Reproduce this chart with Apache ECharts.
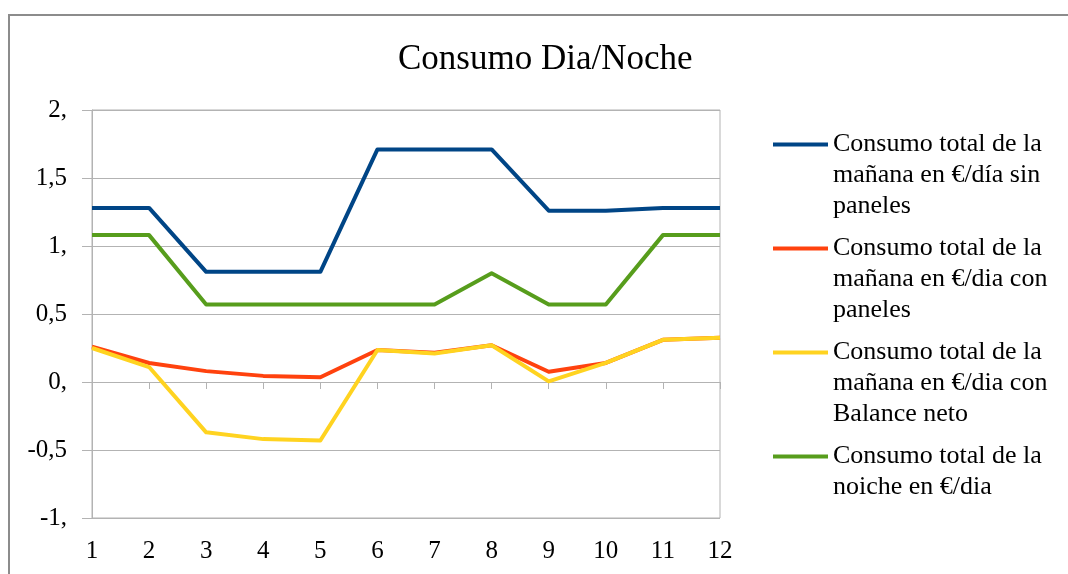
<!DOCTYPE html>
<html>
<head>
<meta charset="utf-8">
<title>Consumo Dia/Noche</title>
<script src="https://cdn.jsdelivr.net/npm/echarts@6/dist/echarts.min.js"></script>
<style>
  html, body { margin: 0; padding: 0; background: #fff; }
  #myChart { width: 1068px; height: 574px; }
</style>
</head>
<body>
<div id="myChart"></div>
<script>
// categorias (meses)
var categories = ['1', '2', '3', '4', '5', '6', '7', '8', '9', '10', '11', '12'];

// valores
var sinPaneles = [1.28, 1.28, 0.81, 0.81, 0.81, 1.71, 1.71, 1.71, 1.26, 1.26, 1.28, 1.28];
var conPaneles = [0.26, 0.14, 0.08, 0.045, 0.035, 0.235, 0.215, 0.27, 0.075, 0.14, 0.31, 0.325];
var balanceNeto = [0.25, 0.11, -0.37, -0.42, -0.43, 0.235, 0.21, 0.27, 0.005, 0.14, 0.31, 0.325];
var noche = [1.08, 1.08, 0.57, 0.57, 0.57, 0.57, 0.57, 0.80, 0.57, 0.57, 1.08, 1.08];

var seriesNames = [
    'Consumo total de la mañana en €/día sin paneles',
    'Consumo total de la mañana en €/dia con paneles',
    'Consumo total de la mañana en €/dia con Balance neto',
    'Consumo total de la noiche en €/dia'
];
// lineas de la leyenda; las lineas vacias dejan el icono a la altura de la primera linea
var legendLabels = [
    '\n\nConsumo total de la\nmañana en €/día sin\npaneles',
    '\n\nConsumo total de la\nmañana en €/dia con\npaneles',
    '\n\nConsumo total de la\nmañana en €/dia con\nBalance neto',
    '\n\nConsumo total de la\nnoiche en €/dia\n'
];

// etiquetas del eje Y
var yTicks = [-1, -0.5, 0, 0.5, 1, 1.5, 2];
var yTickLabels = ['-1,', '-0,5', '0,', '0,5', '1,', '1,5', '2,'];

var colors = ['#004586', '#ff420e', '#ffd320', '#579d1c'];
var serif = '"Liberation Serif", "Times New Roman", serif';

function yLabel(v) {
    for (var i = 0; i < yTicks.length; i++) {
        if (Math.abs(yTicks[i] - v) < 1e-9) return yTickLabels[i];
    }
    return '';
}

function legendLabel(name) {
    var i = seriesNames.indexOf(name);
    return i >= 0 ? legendLabels[i] : name;
}

function lineSeries(idx, values) {
    return {
        name: seriesNames[idx],
        type: 'line',
        xAxisIndex: 0,
        data: values,
        symbol: 'none',
        color: colors[idx],
        lineStyle: {width: 4, color: colors[idx], join: 'round'},
        z: 3 + idx
    };
}

var myChart = echarts.init(document.getElementById('myChart'));

var option = {
    animation: false,
    backgroundColor: '#fff',
    graphic: [{
        type: 'rect',
        shape: {x: 9, y: 15, width: 1100, height: 600},
        style: {fill: 'none', stroke: '#8c8c8c', lineWidth: 2},
        silent: true
    }],
    title: {
        text: 'Consumo Dia/Noche',
        left: 398,
        top: 42,
        padding: 0,
        textStyle: {fontFamily: serif, fontSize: 35, fontWeight: 'normal', color: '#000'}
    },
    legend: {
        orient: 'vertical',
        left: 773,
        top: 67,
        padding: 0,
        itemGap: -51,
        itemWidth: 55,
        itemHeight: 4,
        icon: 'rect',
        formatter: legendLabel,
        textStyle: {fontFamily: serif, fontSize: 26, lineHeight: 31, color: '#000'},
        data: seriesNames
    },
    grid: {
        left: 92,
        right: 348,
        top: 110,
        bottom: 56,
        show: true,
        borderColor: '#b3b3b3',
        borderWidth: 1,
        backgroundColor: 'transparent'
    },
    xAxis: [{
        type: 'category',
        data: categories,
        boundaryGap: false,
        axisLine: {onZero: true, lineStyle: {color: '#b3b3b3', width: 1}},
        axisTick: {show: true, length: 7, lineStyle: {color: '#b3b3b3'}},
        axisLabel: {show: false},
        splitLine: {show: false}
    }, {
        type: 'category',
        data: categories,
        boundaryGap: false,
        position: 'bottom',
        axisLine: {show: false, onZero: false},
        axisTick: {show: false},
        axisLabel: {fontFamily: serif, fontSize: 25, color: '#000', margin: 21},
        splitLine: {show: false}
    }],
    yAxis: {
        type: 'value',
        min: -1,
        max: 2,
        interval: 0.5,
        axisLine: {show: true, lineStyle: {color: '#b3b3b3'}},
        axisTick: {show: true, length: 10, lineStyle: {color: '#b3b3b3'}},
        axisLabel: {fontFamily: serif, fontSize: 25, color: '#000', margin: 25, formatter: yLabel},
        splitLine: {show: true, lineStyle: {color: '#b3b3b3', width: 1}}
    },
    series: [
        lineSeries(0, sinPaneles),
        lineSeries(1, conPaneles),
        lineSeries(2, balanceNeto),
        lineSeries(3, noche)
    ]
};

myChart.setOption(option);
</script>
</body>
</html>
